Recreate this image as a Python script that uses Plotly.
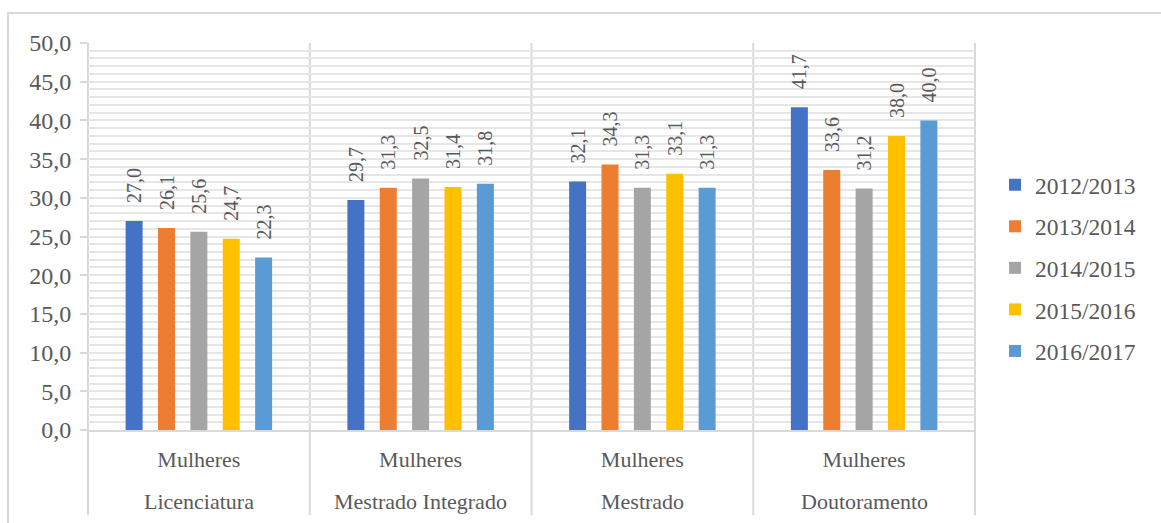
import plotly.graph_objects as go

groups = ["Licenciatura", "Mestrado Integrado", "Mestrado", "Doutoramento"]
sub = ["Mulheres", "Mulheres", "Mulheres", "Mulheres"]
years = ["2012/2013", "2013/2014", "2014/2015", "2015/2016", "2016/2017"]
values = {
    "2012/2013": [27.0, 29.7, 32.1, 41.7],
    "2013/2014": [26.1, 31.3, 34.3, 33.6],
    "2014/2015": [25.6, 32.5, 31.3, 31.2],
    "2015/2016": [24.7, 31.4, 33.1, 38.0],
    "2016/2017": [22.3, 31.8, 31.3, 40.0],
}
colors = ["#4472C4", "#ED7D31", "#A5A5A5", "#FFC000", "#5B9BD5"]
yticks = [0, 5, 10, 15, 20, 25, 30, 35, 40, 45, 50]

FONT = "Liberation Serif"
TXT = "#595959"
GRID = "#e6e6e6"
LINE = "#d9d9d9"
NB = "\u00a0"

fig = go.Figure()
for i, y in enumerate(years):
    fig.add_trace(go.Bar(
        x=groups, y=values[y], name=y,
        marker=dict(color=colors[i], line=dict(width=0)),
        text=[NB * 3 + f"{v:.1f}".replace(".", ",") for v in values[y]],
        textposition="outside", textangle=-90,
        textfont=dict(family=FONT, size=20, color=TXT),
        cliponaxis=False, legendgroup=y,
    ))

# group names under the "Mulheres" tick labels
for g in groups:
    fig.add_annotation(x=g, xref="x", yref="paper", y=-0.186, yanchor="middle",
                       text=g, showarrow=False,
                       font=dict(family=FONT, size=22, color=TXT))

fig.update_layout(
    width=1161, height=523,
    margin=dict(l=88, r=186, t=43, b=93),
    paper_bgcolor="white", plot_bgcolor="white",
    barmode="group", bargap=0.27, bargroupgap=0.475,
    separators=",.",
    uniformtext=dict(minsize=20, mode="show"),
    font=dict(family=FONT, size=22, color=TXT),
    legend=dict(x=1.0226, y=0.69, xanchor="left", yanchor="top",
                font=dict(family=FONT, size=23.5, color=TXT),
                tracegroupgap=8, bgcolor="rgba(0,0,0,0)"),
    showlegend=True,
)
fig.update_yaxes(
    range=[0, 50], tickvals=yticks, tickformat=".1f",
    showgrid=True, gridcolor=GRID, gridwidth=1.5,
    minor=dict(dtick=1, showgrid=True, gridcolor=GRID, gridwidth=1.5),
    ticks="outside", ticklen=7, tickcolor=LINE, tickwidth=1.5,
    ticklabelstandoff=4,
    showline=False, zeroline=False,
    tickfont=dict(family=FONT, size=24, color=TXT),
)
fig.update_xaxes(
    type="category", tickvals=groups, ticktext=sub,
    showgrid=False, showline=True, linecolor=LINE, linewidth=2,
    ticks="", ticklabelstandoff=9,
    tickfont=dict(family=FONT, size=22, color=TXT),
)
# group separators (extend through label area) and chart border
for px in [0, 0.25, 0.5, 0.75, 1.0]:
    fig.add_shape(type="line", xref="paper", yref="paper", x0=px, x1=px, y0=1, y1=-0.22,
                  line=dict(color=LINE, width=2), layer="below")
fig.add_shape(type="rect", xref="paper", yref="paper", x0=-0.0902, x1=1.214, y0=-0.26, y1=1.0775,
              line=dict(color=LINE, width=2), layer="below")

fig.write_html("out.html")
